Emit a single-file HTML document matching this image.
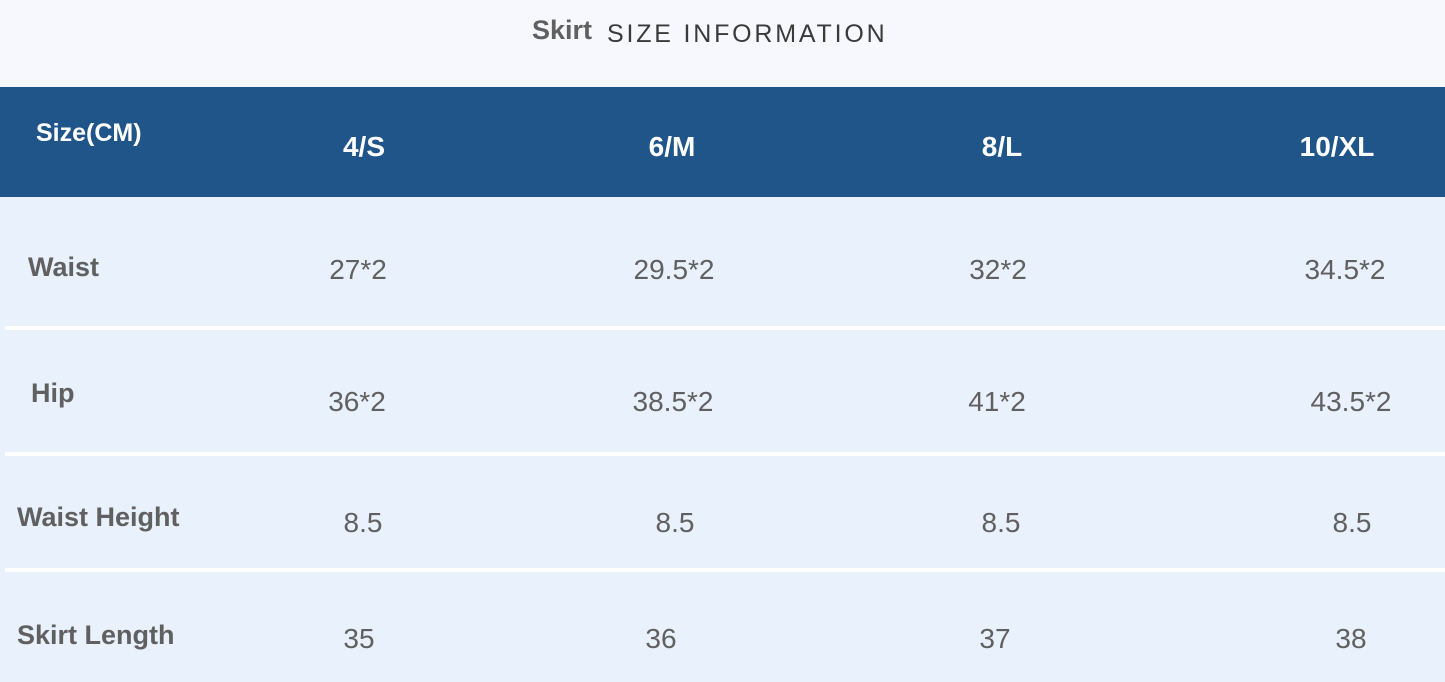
<!DOCTYPE html>
<html><head><style>
body{margin:0;width:1445px;height:682px;overflow:hidden;background:#f6f8fe;font-family:"Liberation Sans",sans-serif;position:relative}
.t{position:absolute;white-space:nowrap}
.lb{color:#606060;font-weight:bold;font-size:27px}
.v{color:#606060;font-size:28px;transform:translateX(-50%)}
.hd{color:#fff;font-weight:bold;font-size:28px}
.sep{position:absolute;left:5px;right:0;height:4px;background:#fff}
</style></head><body>
<div class="t" style="left:532px;top:15px;font-size:27px;font-weight:bold;color:#606060">Skirt</div>
<div class="t" style="left:607px;top:20px;font-size:25px;letter-spacing:2.8px;color:#3a3a3a">SIZE INFORMATION</div>
<div style="position:absolute;left:0;top:87px;width:1445px;height:110px;background:#20558a"></div>
<div style="position:absolute;left:0;top:197px;width:1445px;height:485px;background:#e9f1fc"></div>
<div class="sep" style="top:326px"></div>
<div class="sep" style="top:452px"></div>
<div class="sep" style="top:568px"></div>
<div class="t" style="left:36px;top:119px;font-size:25px;color:#fff;font-weight:bold">Size(CM)</div>
<div class="t v hd" style="left:364px;top:131px">4/S</div>
<div class="t v hd" style="left:672px;top:131px">6/M</div>
<div class="t v hd" style="left:1002px;top:131px">8/L</div>
<div class="t v hd" style="left:1337px;top:131px">10/XL</div>
<div class="t lb" style="left:28px;top:252px">Waist</div>
<div class="t lb" style="left:31px;top:378px">Hip</div>
<div class="t lb" style="left:17px;top:502px">Waist Height</div>
<div class="t lb" style="left:17px;top:620px">Skirt Length</div>
<div class="t v" style="left:358px;top:254px">27*2</div>
<div class="t v" style="left:674px;top:254px">29.5*2</div>
<div class="t v" style="left:998px;top:254px">32*2</div>
<div class="t v" style="left:1345px;top:254px">34.5*2</div>
<div class="t v" style="left:357px;top:386px">36*2</div>
<div class="t v" style="left:673px;top:386px">38.5*2</div>
<div class="t v" style="left:997px;top:386px">41*2</div>
<div class="t v" style="left:1351px;top:386px">43.5*2</div>
<div class="t v" style="left:363px;top:507px">8.5</div>
<div class="t v" style="left:675px;top:507px">8.5</div>
<div class="t v" style="left:1001px;top:507px">8.5</div>
<div class="t v" style="left:1352px;top:507px">8.5</div>
<div class="t v" style="left:359px;top:623px">35</div>
<div class="t v" style="left:661px;top:623px">36</div>
<div class="t v" style="left:995px;top:623px">37</div>
<div class="t v" style="left:1351px;top:623px">38</div>
</body></html>
